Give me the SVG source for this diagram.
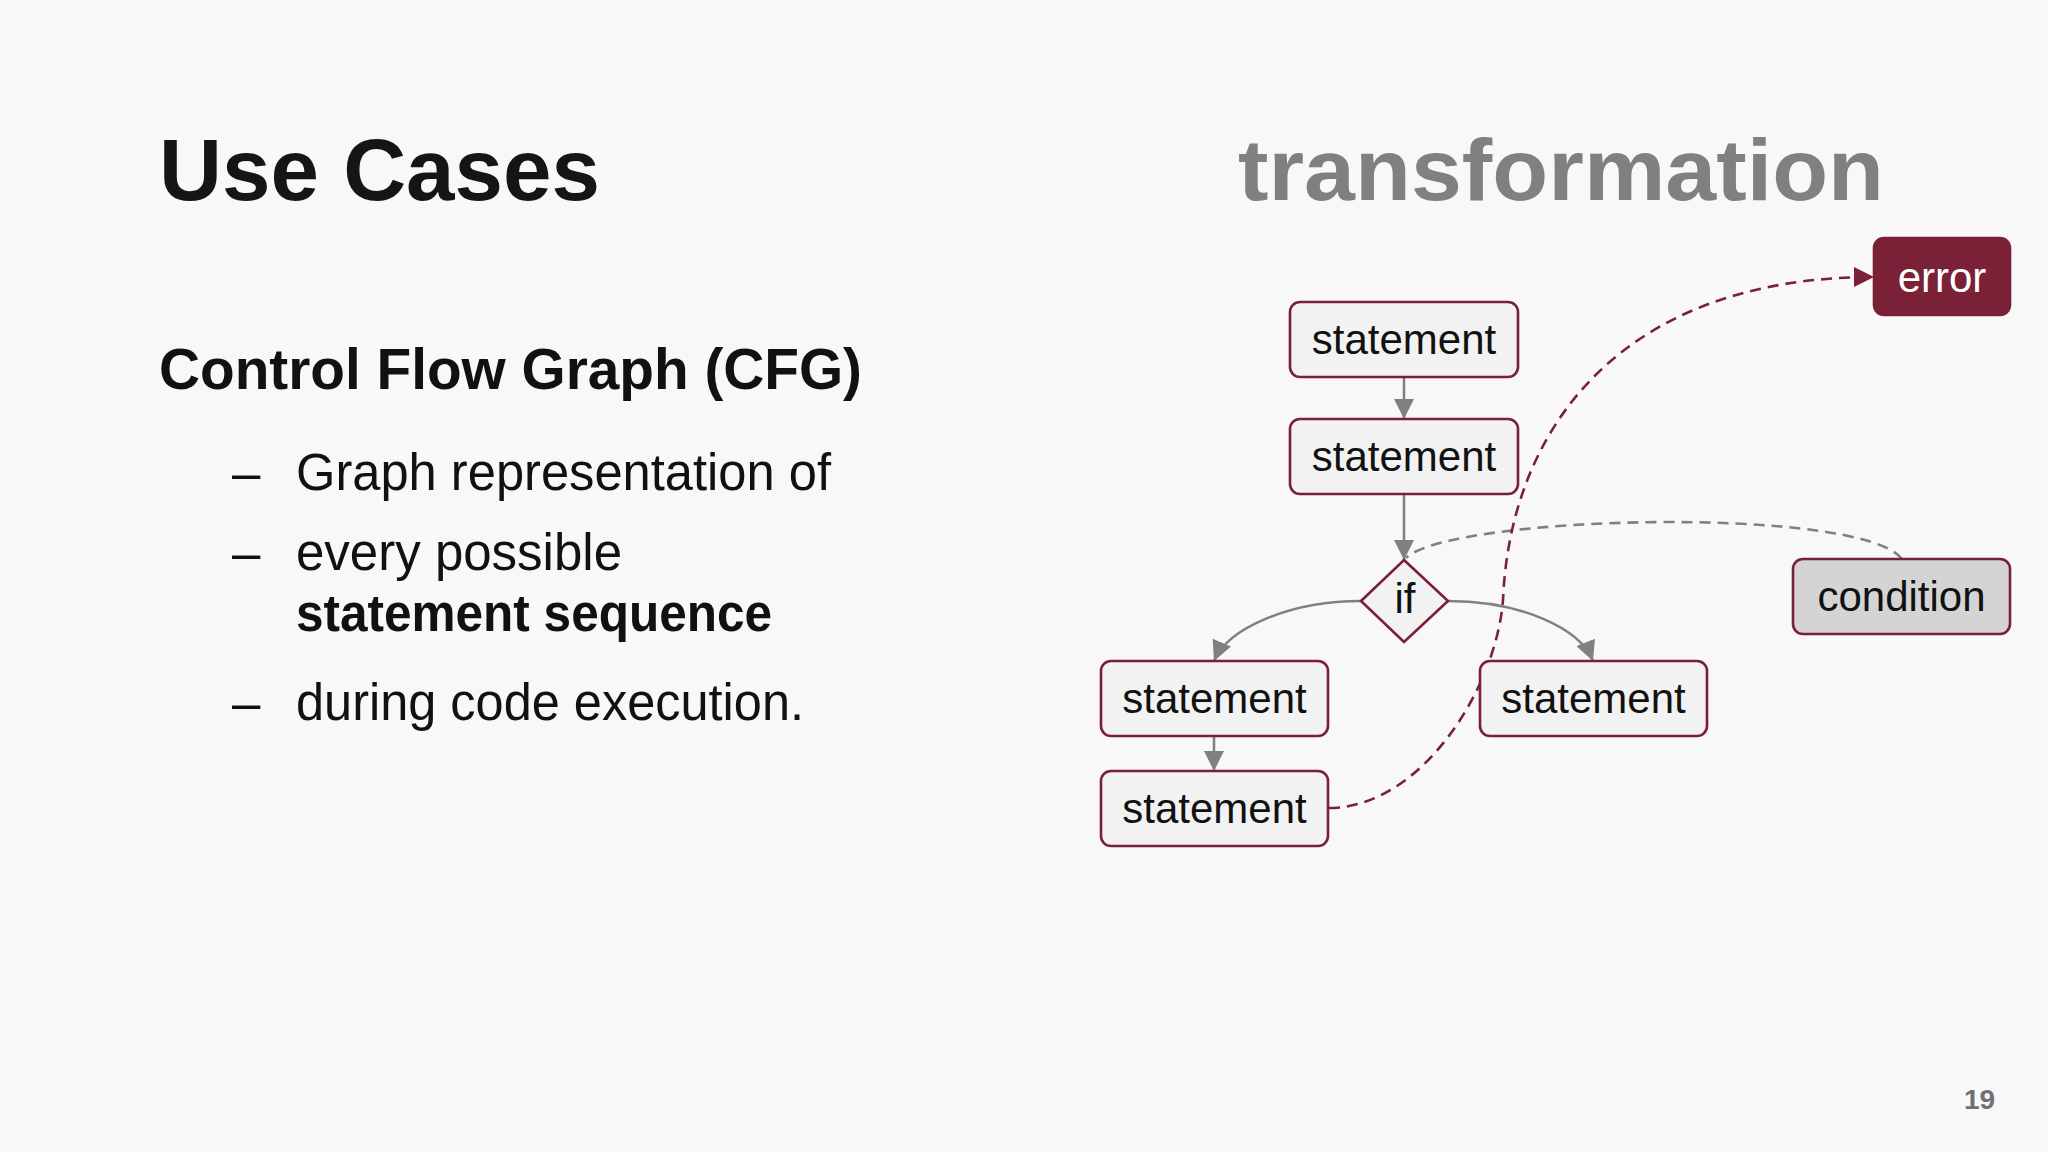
<svg xmlns="http://www.w3.org/2000/svg" width="2048" height="1152" viewBox="0 0 2048 1152">
<style>
.bg{fill:#f8f8f8}
.title{font-family:"Liberation Sans",Arial,sans-serif;font-weight:bold;font-size:88px}
.sub{font-family:"Liberation Sans",Arial,sans-serif;font-weight:bold;font-size:57px;fill:#111}
.body{font-family:"Liberation Sans",Arial,sans-serif;font-size:51px;fill:#111}
.bold{font-weight:bold}
.node rect,.node polygon{fill:#f2f2f2;stroke:#7a1f36;stroke-width:2.6}
.node text{font-family:"Liberation Sans",Arial,sans-serif;font-size:42px;fill:#111;text-anchor:middle}
.cond rect{fill:#d4d4d4}
.err rect{fill:#7a2137;stroke:#7a2137}
.err text{fill:#ffffff}
.edge{fill:none;stroke:#808080;stroke-width:2.5}
.dash-gray{fill:none;stroke:#808080;stroke-width:2.6;stroke-dasharray:11 7}
.dash-red{fill:none;stroke:#7a2137;stroke-width:2.6;stroke-dasharray:11 7}
.pg{font-family:"Liberation Sans",Arial,sans-serif;font-weight:bold;font-size:28px;fill:#707070}
</style>
<defs>
<marker id="arrGray" viewBox="0 0 20 20" refX="20" refY="10" markerWidth="20" markerHeight="20" markerUnits="userSpaceOnUse" orient="auto">
<path d="M0,0 L20,10 L0,20 z" fill="#808080"/>
</marker>
<marker id="arrRed" viewBox="0 0 20 20" refX="20" refY="10" markerWidth="20" markerHeight="21" markerUnits="userSpaceOnUse" orient="auto">
<path d="M0,0 L20,10 L0,20 z" fill="#7a2137"/>
</marker>
</defs>
<rect class="bg" x="0" y="0" width="2048" height="1152"/>

<g id="heading">
<text class="title" x="159" y="200" fill="#151515" textLength="441" lengthAdjust="spacingAndGlyphs">Use Cases</text>
<text class="title" x="1238" y="200" fill="#808080" textLength="646" lengthAdjust="spacingAndGlyphs">transformation</text>
<text class="sub" x="159" y="389" textLength="703" lengthAdjust="spacingAndGlyphs">Control Flow Graph (CFG)</text>
</g>

<g id="bullets">
<text class="body" x="232" y="490">–</text>
<text class="body" x="296" y="490" textLength="535" lengthAdjust="spacingAndGlyphs">Graph representation of</text>
<text class="body" x="232" y="570">–</text>
<text class="body" x="296" y="570">every possible</text>
<text class="body bold" x="296" y="631" textLength="476" lengthAdjust="spacingAndGlyphs">statement sequence</text>
<text class="body" x="232" y="720">–</text>
<text class="body" x="296" y="720" textLength="508" lengthAdjust="spacingAndGlyphs">during code execution.</text>
</g>

<g id="connectors">
<line class="edge" x1="1404" y1="377" x2="1404" y2="419" marker-end="url(#arrGray)"/>
<line class="edge" x1="1404" y1="494" x2="1404" y2="560" marker-end="url(#arrGray)"/>
<path class="edge" d="M1361,601 C1290,601 1228,628 1214,661" marker-end="url(#arrGray)"/>
<path class="edge" d="M1448,601 C1520,601 1580,628 1593,661" marker-end="url(#arrGray)"/>
<line class="edge" x1="1214" y1="736" x2="1214" y2="771" marker-end="url(#arrGray)"/>
<path class="dash-gray" d="M1902,559 C1860,505 1450,515 1406,558"/>
<path class="dash-red" d="M1329,808 C1420,808 1496,690 1503,600 C1510,430 1620,277 1874,277" marker-end="url(#arrRed)"/>
</g>

<g id="n-stmt1" class="node">
<rect x="1290" y="302" width="228" height="75" rx="10"/>
<text x="1404" y="354">statement</text>
</g>
<g id="n-stmt2" class="node">
<rect x="1290" y="419" width="228" height="75" rx="10"/>
<text x="1404" y="471">statement</text>
</g>
<g id="n-if" class="node">
<polygon points="1404,560 1448,601 1404,642 1361,601"/>
<text x="1405" y="613">if</text>
</g>
<g id="n-stmt3" class="node">
<rect x="1101" y="661" width="227" height="75" rx="10"/>
<text x="1214.5" y="713">statement</text>
</g>
<g id="n-stmt4" class="node">
<rect x="1101" y="771" width="227" height="75" rx="10"/>
<text x="1214.5" y="823">statement</text>
</g>
<g id="n-stmt5" class="node">
<rect x="1480" y="661" width="227" height="75" rx="10"/>
<text x="1593.5" y="713">statement</text>
</g>
<g id="n-condition" class="node cond">
<rect x="1793" y="559" width="217" height="75" rx="10"/>
<text x="1901.5" y="611">condition</text>
</g>
<g id="n-error" class="node err">
<rect x="1874" y="238" width="136" height="77" rx="10"/>
<text x="1942" y="292">error</text>
</g>

<text class="pg" x="1964" y="1109">19</text>
</svg>
